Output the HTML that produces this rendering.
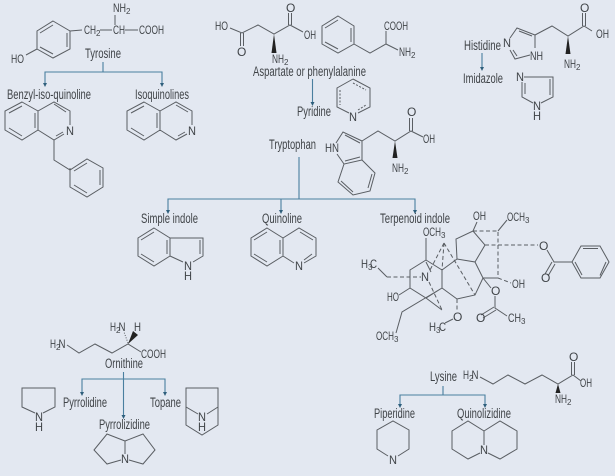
<!DOCTYPE html>
<html><head><meta charset="utf-8"><style>
html,body{margin:0;padding:0;background:#e3e8f1}
svg{display:block;filter:blur(.3px)}
text{font-family:"Liberation Sans",sans-serif;fill:#404448;font-size:12px}
.l{font-size:13.500px}
.s{font-size:8px}
.m{fill:none;stroke:#5a5e63;stroke-width:1}
.d{fill:none;stroke:#5a5e63;stroke-width:1;stroke-dasharray:4 2.500}
.a{fill:none;stroke:#4a7f9f;stroke-width:1.100}
.h{fill:#2f5f7c}
.w{fill:#222}
</style></head><body>
<svg width="615" height="476" viewBox="0 0 615 476" xmlns="http://www.w3.org/2000/svg">
<rect width="615" height="476" fill="#e3e8f1"/>

<!-- Arrows -->
<path class="a" d="M103 62V72M45 84V72H162V84"/>
<path class="h" d="M43 83h4l-2 4zM160 83h4l-2 4z"/>
<path class="a" d="M312.500 79V103"/><path class="h" d="M310.500 102h4l-2 4z"/>
<path class="a" d="M299 157V199M168 211V199H415V211M281 199V211"/>
<path class="h" d="M166 210h4l-2 4zM279 210h4l-2 4zM413 210h4l-2 4z"/>
<path class="a" d="M482 53V67"/><path class="h" d="M480 67h4l-2 4z"/>
<path class="a" d="M123.500 372V415M82 392V379H165V392"/>
<path class="h" d="M80 392h4l-2 4zM163 392h4l-2 4zM121.500 415h4l-2 4z"/>
<path class="a" d="M443 386V395M400 404V395H485V404"/>
<path class="h" d="M398 404h4l-2 4zM483 404h4l-2 4z"/>

<!-- Tyrosine -->
<path class="m" d="M53 21L70 31V49L53 58L37 49V31ZM53 25L40 33M67 33V47M53 54L40 47M37 49L26 55M70 31L82 30M100 30H112M125 30H138M115 15V25"/>
<text x="11" y="63" textLength="13" lengthAdjust="spacingAndGlyphs">HO</text>
<text x="84" y="34" textLength="12" lengthAdjust="spacingAndGlyphs">CH</text><text x="96" y="36" class="s">2</text>
<text x="113" y="34" textLength="12" lengthAdjust="spacingAndGlyphs">CH</text>
<text x="113" y="12" textLength="13" lengthAdjust="spacingAndGlyphs">NH</text><text x="126" y="14" class="s">2</text>
<text x="139" y="34" textLength="25" lengthAdjust="spacingAndGlyphs">COOH</text>
<text class="l" x="85" y="58" textLength="36" lengthAdjust="spacingAndGlyphs">Tyrosine</text>
<text class="l" x="7" y="99" textLength="84" lengthAdjust="spacingAndGlyphs">Benzyl-iso-quinoline</text>
<text class="l" x="135" y="99" textLength="54" lengthAdjust="spacingAndGlyphs">Isoquinolines</text>

<!-- Benzyl isoquinoline -->
<path class="m" d="M22 102L38 111V130L22 140L5 130V111ZM22 106L9 113M35 113V128M22 136L9 128M38 111L54 102L70 111V125M38 130L54 140L64 134M54 104L66 112M56 136L63 132M54 140V160L70 170L87 159L103 168V187L87 197L70 187V168M87 163L74 171M100 170V185M87 193L74 185"/>
<text x="66" y="135" textLength="8" lengthAdjust="spacingAndGlyphs">N</text>
<!-- Isoquinoline -->
<path class="m" d="M144 102L160 111V130L144 140L127 130V111ZM144 106L131 113M157 113V128M144 136L131 128M160 111L176 102L192 111V125M160 130L176 140L187 134M176 105L188 112M178 136L185 132"/>
<text x="188" y="135" textLength="8" lengthAdjust="spacingAndGlyphs">N</text>

<!-- Aspartate -->
<path class="m" d="M230 28L242 33L258 25L274 34L290 25L303 32M288.500 25V13M291.500 25V13M240.500 33V46M243.500 33V46"/>
<path class="w" d="M274 34L276.500 53H271.500Z"/>
<text x="215" y="30" textLength="13" lengthAdjust="spacingAndGlyphs">HO</text>
<text x="304" y="39" textLength="12" lengthAdjust="spacingAndGlyphs">OH</text>
<text x="286" y="12">O</text><text x="237" y="56">O</text>
<text x="272" y="63" textLength="12" lengthAdjust="spacingAndGlyphs">NH</text><text x="284" y="65" class="s">2</text>
<!-- Phenylalanine -->
<path class="m" d="M338 16L354 26V44L338 53L322 44V26ZM338 20L325 28M351 28V42M338 49L325 42M354 44L370 53L386 44L398 50M386 44V31"/>
<text x="384" y="30" textLength="24" lengthAdjust="spacingAndGlyphs">COOH</text>
<text x="399" y="56" textLength="12" lengthAdjust="spacingAndGlyphs">NH</text><text x="411" y="58" class="s">2</text>
<text class="l" x="253" y="76" textLength="113" lengthAdjust="spacingAndGlyphs">Aspartate or phenylalanine</text>
<text class="l" x="297" y="116" textLength="34" lengthAdjust="spacingAndGlyphs">Pyridine</text>
<!-- Pyridine -->
<path class="m" d="M353 79L370 88V107L358 113M349 113L337 107V88L353 79"/>
<path class="m" stroke-dasharray="2 1.500" d="M340 90V105M353 83L366 90M358 110L366 105"/>
<text x="349" y="121" textLength="8" lengthAdjust="spacingAndGlyphs">N</text>

<!-- Tryptophan -->
<text class="l" x="269" y="149" textLength="47" lengthAdjust="spacingAndGlyphs">Tryptophan</text>
<path class="m" d="M336 143L343 132L362 141V160L344 164L338 182L353 195L370 191L375 173L362 160M345 135L360 143M345 161L360 157M341 181L353 192M368 188L372 174M344 164L337 154M362 141L378 131L395 141L411 131L423 137M409.500 131V118M412.500 131V118"/>
<path class="w" d="M395 141L397.500 158H392.500Z"/>
<text x="325" y="152" textLength="14" lengthAdjust="spacingAndGlyphs">HN</text>
<text x="407" y="116">O</text>
<text x="423" y="143" textLength="12" lengthAdjust="spacingAndGlyphs">OH</text>
<text x="392" y="172" textLength="12" lengthAdjust="spacingAndGlyphs">NH</text><text x="404" y="174" class="s">2</text>

<!-- Histidine -->
<text class="l" x="464" y="50" textLength="37" lengthAdjust="spacingAndGlyphs">Histidine</text>
<text class="l" x="463" y="83" textLength="40" lengthAdjust="spacingAndGlyphs">Imidazole</text>
<path class="m" d="M510 38L517 28L535 35V48M530 55L515 59L510 50M519 31L532 36M513 50L517 56M535 35L552 26L568 36L584 26L592 31M582.500 26V13M585.500 26V13"/>
<path class="w" d="M568 36L570.500 54H565.500Z"/>
<text x="503" y="47" textLength="8" lengthAdjust="spacingAndGlyphs">N</text>
<text x="530" y="60" textLength="13" lengthAdjust="spacingAndGlyphs">NH</text>
<text x="580" y="12">O</text>
<text x="596" y="38" textLength="13" lengthAdjust="spacingAndGlyphs">OH</text>
<text x="564" y="68" textLength="12" lengthAdjust="spacingAndGlyphs">NH</text><text x="576" y="70" class="s">2</text>
<!-- Imidazole -->
<path class="m" d="M524 77H553V97L541 103M533 103L522 97V82M525 83V94M550 79V95"/>
<text x="516" y="81" textLength="8" lengthAdjust="spacingAndGlyphs">N</text>
<text x="533" y="110" textLength="8" lengthAdjust="spacingAndGlyphs">N</text>
<text x="533" y="120" textLength="8" lengthAdjust="spacingAndGlyphs">H</text>

<!-- Simple indole -->
<text class="l" x="141" y="223" textLength="57" lengthAdjust="spacingAndGlyphs">Simple indole</text>
<path class="m" d="M154 228L170 238V256L154 266L138 256V238ZM154 232L141 240M167 240V254M154 262L141 254M170 238H203V256L193 262M170 256L183 262M200 240V254"/>
<text x="184" y="270" textLength="8" lengthAdjust="spacingAndGlyphs">N</text>
<text x="184" y="280" textLength="8" lengthAdjust="spacingAndGlyphs">H</text>
<!-- Quinoline -->
<text class="l" x="262" y="223" textLength="40" lengthAdjust="spacingAndGlyphs">Quinoline</text>
<path class="m" d="M267 228L283 238V256L267 266L251 256V238ZM267 232L254 240M280 240V254M267 262L254 254M283 238L299 228L316 238V256L304 263M283 256L294 263M300 232L313 240M304 260L312 254"/>
<text x="295" y="270" textLength="8" lengthAdjust="spacingAndGlyphs">N</text>

<!-- Terpenoid indole -->
<text class="l" x="380" y="223" textLength="70" lengthAdjust="spacingAndGlyphs">Terpenoid indole</text>
<path class="m" d="M426 238V260L410 270V288L426 298L442 288V270L426 260M426 262L431 272M442 270L457 259L475 262L483 278L475 295L457 299L442 288M457 259L456 239L473 231L485 245L475 262M473 231L477 222M498 231L507 220M483 278H498M483 278L491 288M495 296V308L507 316M494 307L481 315M496 310L483 318M426 298L442 310M442 288L402 312L396 333M410 288L399 295M378 268L387 277M547 250L554 262H572M552 262L545 274M555 264L548 276M572 262L581 246H600L609 262L600 278H581ZM583 248.500H598M600 275.500L606 262M582 275L575 262M445 323L453 319"/>
<path class="d" d="M387 277H421M473 231H498V278M485 245H538M498 278L511 283M457 299V312M444 243L429 272M444 243L442 270M444 243L475 295M429 282L442 310"/>
<text x="421" y="281" textLength="8" lengthAdjust="spacingAndGlyphs">N</text>
<text x="423" y="236" textLength="18" lengthAdjust="spacingAndGlyphs">OCH</text><text x="441" y="238" class="s">3</text>
<text x="473" y="220" textLength="13" lengthAdjust="spacingAndGlyphs">OH</text>
<text x="507" y="221" textLength="18" lengthAdjust="spacingAndGlyphs">OCH</text><text x="525" y="223" class="s">3</text>
<text x="539" y="250">O</text>
<text x="541" y="282">O</text>
<text x="512" y="288" textLength="13" lengthAdjust="spacingAndGlyphs">OH</text>
<text x="491" y="295">O</text>
<text x="476" y="322">O</text>
<text x="508" y="322" textLength="13" lengthAdjust="spacingAndGlyphs">CH</text><text x="521" y="324" class="s">3</text>
<text x="453" y="321">O</text>
<text x="429" y="331" textLength="7" lengthAdjust="spacingAndGlyphs">H</text><text x="436" y="333" class="s">3</text><text x="439" y="331" textLength="7" lengthAdjust="spacingAndGlyphs">C</text>
<text x="361" y="268" textLength="7" lengthAdjust="spacingAndGlyphs">H</text><text x="368" y="270" class="s">3</text><text x="370" y="268" textLength="7" lengthAdjust="spacingAndGlyphs">C</text>
<text x="387" y="301" textLength="12" lengthAdjust="spacingAndGlyphs">HO</text>
<text x="376" y="340" textLength="18" lengthAdjust="spacingAndGlyphs">OCH</text><text x="394" y="342" class="s">3</text>

<!-- Ornithine -->
<path class="m" d="M67 345L79 353L95 344L112 353L128 344L141 352"/>
<path class="w" d="M128 344L133 331L138 335Z"/>
<path class="m" stroke-dasharray="1 1.500" stroke-width="2" d="M128 343L124 332"/>
<text x="50" y="348" textLength="6" lengthAdjust="spacingAndGlyphs">H</text><text x="56" y="350" class="s">2</text><text x="58.500" y="348" textLength="7" lengthAdjust="spacingAndGlyphs">N</text>
<text x="110" y="331" textLength="6" lengthAdjust="spacingAndGlyphs">H</text><text x="116" y="333" class="s">2</text><text x="118.500" y="331" textLength="7" lengthAdjust="spacingAndGlyphs">N</text>
<text x="134" y="331" textLength="7" lengthAdjust="spacingAndGlyphs">H</text>
<text x="141" y="358" textLength="25" lengthAdjust="spacingAndGlyphs">COOH</text>
<text class="l" x="105" y="368" textLength="38" lengthAdjust="spacingAndGlyphs">Ornithine</text>
<text class="l" x="63" y="407" textLength="44" lengthAdjust="spacingAndGlyphs">Pyrrolidine</text>
<text class="l" x="150" y="407" textLength="31" lengthAdjust="spacingAndGlyphs">Topane</text>
<text class="l" x="99" y="429" textLength="51" lengthAdjust="spacingAndGlyphs">Pyrrolizidine</text>
<!-- Pyrrolidine -->
<path class="m" d="M35 413L22 407V388H55V407L43 413"/>
<text x="35" y="421" textLength="8" lengthAdjust="spacingAndGlyphs">N</text>
<text x="35" y="431" textLength="8" lengthAdjust="spacingAndGlyphs">H</text>
<!-- Topane -->
<path class="m" d="M186 407V388H218V425L202 435L186 425V407L198 414M218 407L207 414"/>
<text x="198" y="421" textLength="8" lengthAdjust="spacingAndGlyphs">N</text>
<text x="198" y="431" textLength="8" lengthAdjust="spacingAndGlyphs">H</text>
<!-- Pyrrolizidine -->
<path class="m" d="M125 454V441L143 434L155 450L143 464L129 460M125 441L107 434L94 450L107 464L121 460"/>
<text x="121" y="463" textLength="8" lengthAdjust="spacingAndGlyphs">N</text>

<!-- Lysine -->
<text class="l" x="430" y="381" textLength="27" lengthAdjust="spacingAndGlyphs">Lysine</text>
<text x="463" y="379" textLength="6" lengthAdjust="spacingAndGlyphs">H</text><text x="469" y="381" class="s">2</text><text x="471.500" y="379" textLength="7" lengthAdjust="spacingAndGlyphs">N</text>
<path class="m" d="M480 377L493 384L508 375L525 384L542 375L558 384L573 375L581 381M571.500 375V362M574.500 375V362"/>
<path class="w" d="M558 384L560.500 393H555.500Z"/>
<text x="569" y="361">O</text>
<text x="580" y="387" textLength="12" lengthAdjust="spacingAndGlyphs">OH</text>
<text x="555" y="403" textLength="12" lengthAdjust="spacingAndGlyphs">NH</text><text x="567" y="405" class="s">2</text>
<text class="l" x="374" y="418" textLength="41" lengthAdjust="spacingAndGlyphs">Piperidine</text>
<text class="l" x="457" y="418" textLength="54" lengthAdjust="spacingAndGlyphs">Quinolizidine</text>
<!-- Piperidine -->
<path class="m" d="M388 456L377 449V430L393 421L409 430V449L398 456"/>
<text x="389" y="464" textLength="8" lengthAdjust="spacingAndGlyphs">N</text>
<!-- Quinolizidine -->
<path class="m" d="M484 445V431L468 421L452 431V449L468 459L480 453M484 431L500 421L517 431V449L500 459L488 453"/>
<text x="480" y="454" textLength="8" lengthAdjust="spacingAndGlyphs">N</text>
</svg>
</body></html>
